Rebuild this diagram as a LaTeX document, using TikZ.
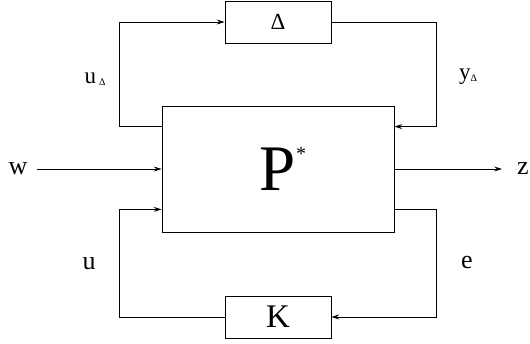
\documentclass[tikz,border=0pt]{standalone}
\usepackage{fontspec}
\setmainfont{Liberation Serif}
\usetikzlibrary{arrows.meta, positioning}

\begin{document}
\begin{tikzpicture}[x=1pt, y=-1pt,
      blk/.style={rectangle, draw, line width=0.8pt, inner sep=0pt},
      lbl/.style={anchor=base, inner sep=2pt, font=\fontsize{26}{30}\selectfont},
      sublbl/.style={anchor=base, inner sep=2pt, font=\fontsize{23}{26}\selectfont},
      arr/.style={-{Stealth[length=8pt, width=5pt, inset=3pt]}, line width=0.8pt}
    ]
      \useasboundingbox (0,0) rectangle (530,344);
      \node[blk, minimum width=106pt, minimum height=42pt,
            font=\fontsize{23}{26}\selectfont] (delta) at (278,22) {Δ};
      \node[blk, minimum width=232pt, minimum height=126pt,
            font=\fontsize{65}{70}\selectfont] (plant) at (278,169)
            {\raisebox{-4pt}{P\rlap{\raisebox{30pt}{\fontsize{20}{20}\selectfont *}}}};
      \node[blk, minimum width=106pt, minimum height=42pt,
            font=\fontsize{33}{36}\selectfont] (ctrl) at (278,317) {K};
      % signals
      \node[lbl] (w) at (18,175) {w};
      \node[lbl] (z) at (523,175) {z};
      \node[lbl] (u) at (89,270) {u};
      \node[lbl] (e) at (467,269) {e};
      \node[sublbl] (udelta) at (95,84) {u\hspace{3pt}\raisebox{-2pt}{\fontsize{10}{10}\selectfont Δ}};
      \node[sublbl] (ydelta) at (468,80) {y\raisebox{-2pt}{\fontsize{10}{10}\selectfont Δ}};
      % connections
      \draw[arr] ([yshift=-21pt]plant.north west) -- ++(-42,0) |- (delta.west);
      \draw[arr] (delta.east) -- ++(105,0) |- ([yshift=-21pt]plant.north east);
      \draw[arr, shorten <=7pt] (plant.west -| w.east) -- (plant.west);
      \draw[arr, shorten >=13pt] (plant.east) -- (plant.east -| z.west);
      \draw[arr] ([yshift=23pt]plant.south east) -- ++(42,0) |- (ctrl.east);
      \draw[arr] (ctrl.west) -- ++(-105,0) |- ([yshift=23pt]plant.south west);
    \end{tikzpicture}
\end{document}
